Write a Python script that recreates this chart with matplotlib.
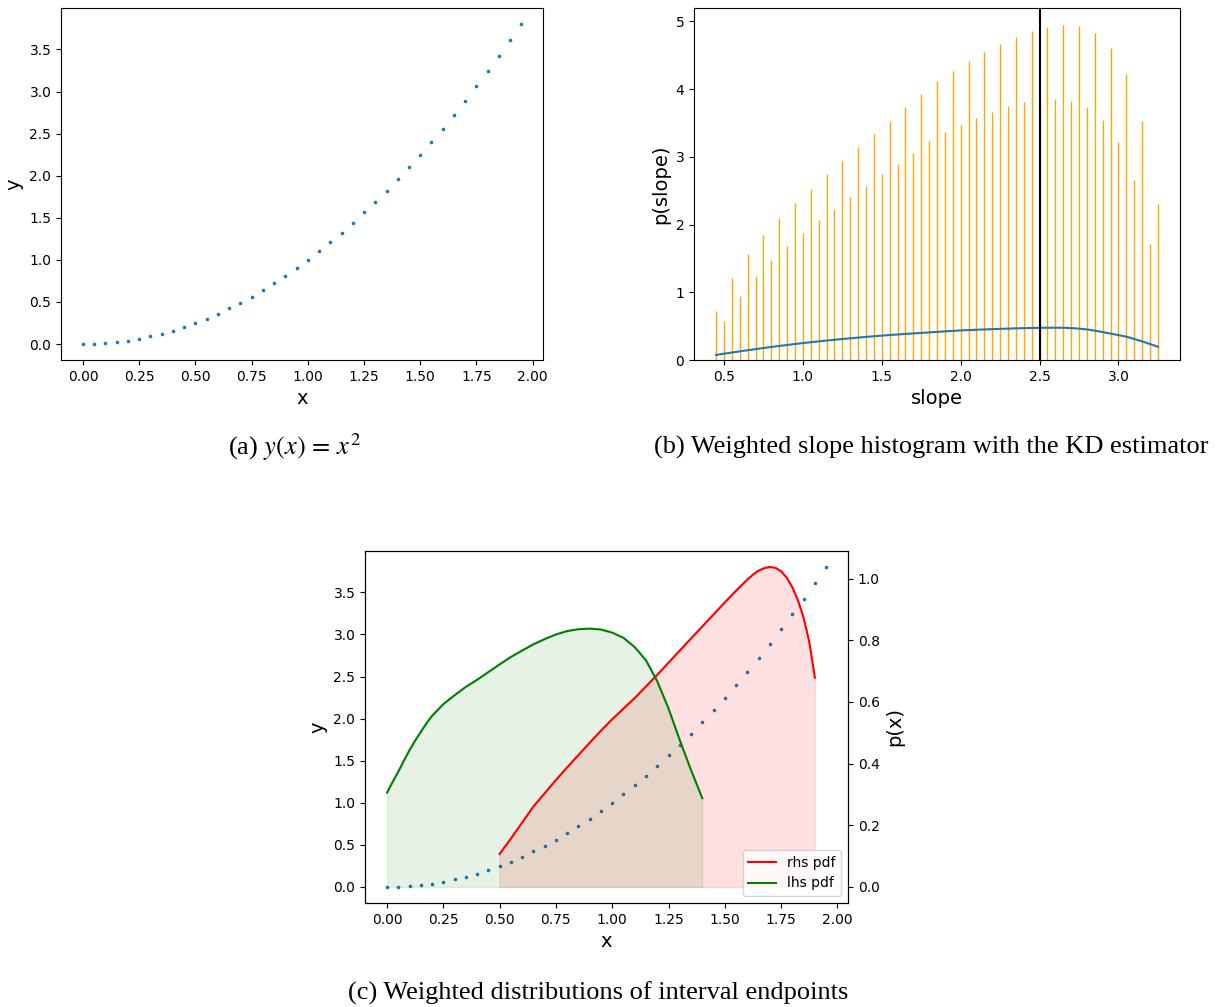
import matplotlib
matplotlib.use("Agg")
import matplotlib.pyplot as plt

plt.rcParams['mathtext.fontset'] = 'stix'

# --- data: sampled y = x^2 points ---
x_pts = [0.00, 0.05, 0.10, 0.15, 0.20, 0.25, 0.30, 0.35, 0.40, 0.45,
         0.50, 0.55, 0.60, 0.65, 0.70, 0.75, 0.80, 0.85, 0.90, 0.95,
         1.00, 1.05, 1.10, 1.15, 1.20, 1.25, 1.30, 1.35, 1.40, 1.45,
         1.50, 1.55, 1.60, 1.65, 1.70, 1.75, 1.80, 1.85, 1.90, 1.95]
y_pts = [0.0, 0.0025, 0.01, 0.0225, 0.04, 0.0625, 0.09, 0.1225, 0.16, 0.2025,
         0.25, 0.3025, 0.36, 0.4225, 0.49, 0.5625, 0.64, 0.7225, 0.81, 0.9025,
         1.0, 1.1025, 1.21, 1.3225, 1.44, 1.5625, 1.69, 1.8225, 1.96, 2.1025,
         2.25, 2.4025, 2.56, 2.7225, 2.89, 3.0625, 3.24, 3.4225, 3.61, 3.8025]

# --- data: weighted slope histogram ---
slope_bins = [0.45, 0.50, 0.55, 0.60, 0.65, 0.70, 0.75, 0.80, 0.85, 0.90,
              0.95, 1.00, 1.05, 1.10, 1.15, 1.20, 1.25, 1.30, 1.35, 1.40,
              1.45, 1.50, 1.55, 1.60, 1.65, 1.70, 1.75, 1.80, 1.85, 1.90,
              1.95, 2.00, 2.05, 2.10, 2.15, 2.20, 2.25, 2.30, 2.35, 2.40,
              2.45, 2.50, 2.55, 2.60, 2.65, 2.70, 2.75, 2.80, 2.85, 2.90,
              2.95, 3.00, 3.05, 3.10, 3.15, 3.20, 3.25]
slope_hist = [0.73, 0.57, 1.21, 0.95, 1.57, 1.24, 1.85, 1.48, 2.09, 1.69,
              2.32, 1.88, 2.53, 2.06, 2.74, 2.23, 2.94, 2.40, 3.14, 2.57,
              3.34, 2.74, 3.53, 2.90, 3.73, 3.06, 3.92, 3.23, 4.12, 3.37,
              4.27, 3.47, 4.41, 3.57, 4.54, 3.66, 4.67, 3.75, 4.77, 3.81,
              4.86, 3.85, 4.92, 3.86, 4.95, 3.83, 4.93, 3.74, 4.83, 3.55,
              4.61, 3.22, 4.22, 2.66, 3.53, 1.71, 2.30]
slope_mean = 2.505

kde_x = [0.45, 0.5, 0.625, 0.75, 0.875, 1.0, 1.125, 1.25, 1.375, 1.5,
         1.625, 1.75, 1.875, 2.0, 2.125, 2.25, 2.375, 2.5, 2.575, 2.65,
         2.725, 2.8, 2.875, 2.95, 3.05, 3.15, 3.25]
kde_y = [0.074, 0.093, 0.136, 0.177, 0.215, 0.25, 0.281, 0.31, 0.336, 0.36,
         0.381, 0.40, 0.419, 0.437, 0.449, 0.46, 0.469, 0.475, 0.477, 0.476,
         0.468, 0.452, 0.423, 0.39, 0.345, 0.275, 0.196]

# --- data: weighted endpoint distributions ---
lhs_x = [0.0, 0.025, 0.05, 0.075, 0.1, 0.125, 0.15, 0.175, 0.2, 0.25, 0.3,
         0.35, 0.4, 0.45, 0.5, 0.55, 0.6, 0.65, 0.7, 0.75, 0.8, 0.85, 0.9,
         0.95, 1.0, 1.05, 1.1, 1.15, 1.2, 1.25, 1.3, 1.35, 1.4]
lhs_pdf = [0.306, 0.341, 0.374, 0.41, 0.444, 0.475, 0.503, 0.531, 0.555,
           0.593, 0.622, 0.649, 0.672, 0.697, 0.722, 0.746, 0.767, 0.787,
           0.804, 0.819, 0.830, 0.836, 0.838, 0.835, 0.825, 0.808, 0.778,
           0.735, 0.667, 0.579, 0.476, 0.379, 0.288]
rhs_x = [0.5, 0.55, 0.6, 0.65, 0.7, 0.75, 0.8, 0.85, 0.9, 0.95, 1.0, 1.1,
         1.2, 1.3, 1.4, 1.5, 1.55, 1.6, 1.625, 1.65, 1.675, 1.7, 1.725,
         1.75, 1.775, 1.8, 1.825, 1.85, 1.875, 1.9]
rhs_pdf = [0.107, 0.157, 0.209, 0.261, 0.304, 0.347, 0.388, 0.428, 0.468,
           0.507, 0.544, 0.613, 0.688, 0.767, 0.845, 0.923, 0.961, 0.997,
           1.013, 1.026, 1.034, 1.038, 1.035, 1.024, 1.003, 0.972, 0.929,
           0.873, 0.795, 0.679]

fig = plt.figure(figsize=(12.21, 10.07), dpi=100)

# (a)
ax1 = fig.add_axes([0.050, 0.6425, 0.395, 0.3496])
ax1.scatter(x_pts, y_pts, s=2.5)
ax1.set_xlabel("x", fontsize=14)
ax1.set_ylabel("y", fontsize=14)
fig.text(0.241, 0.556, r"(a) $y(x)\,=\,x^2$", ha="center", va="center",
         fontsize=19, family="Liberation Serif")

# (b)
ax2 = fig.add_axes([0.5684, 0.6425, 0.398, 0.3496])
ax2.vlines(slope_bins, 0, slope_hist, color="orange", linewidth=1.0)
ax2.plot(kde_x, kde_y)
ax2.axvline(slope_mean, color="black")
ax2.set_ylim(bottom=0)
ax2.set_xlabel("slope", fontsize=14)
ax2.set_ylabel("p(slope)", fontsize=14)
fig.text(0.763, 0.556, "(b) Weighted slope histogram with the KD estimator",
         ha="center", va="center", fontsize=19, family="Liberation Serif")

# (c)
ax3 = fig.add_axes([0.299, 0.1033, 0.3956, 0.3496])
ax3.scatter(x_pts, y_pts, s=2.5)
ax3.set_xlabel("x", fontsize=14)
ax3.set_ylabel("y", fontsize=14)
ax4 = ax3.twinx()
ax4.plot(rhs_x, rhs_pdf, color="red", label="rhs pdf")
ax4.fill_between(rhs_x, rhs_pdf, color="red", alpha=0.12)
ax4.plot(lhs_x, lhs_pdf, color="green", label="lhs pdf")
ax4.fill_between(lhs_x, lhs_pdf, color="green", alpha=0.1)
ax4.set_ylabel("p(x)", fontsize=14)
ax4.legend(loc="lower right")
fig.text(0.49, 0.014, "(c) Weighted distributions of interval endpoints",
         ha="center", va="center", fontsize=19, family="Liberation Serif")

fig.savefig("out.png", dpi=100)
